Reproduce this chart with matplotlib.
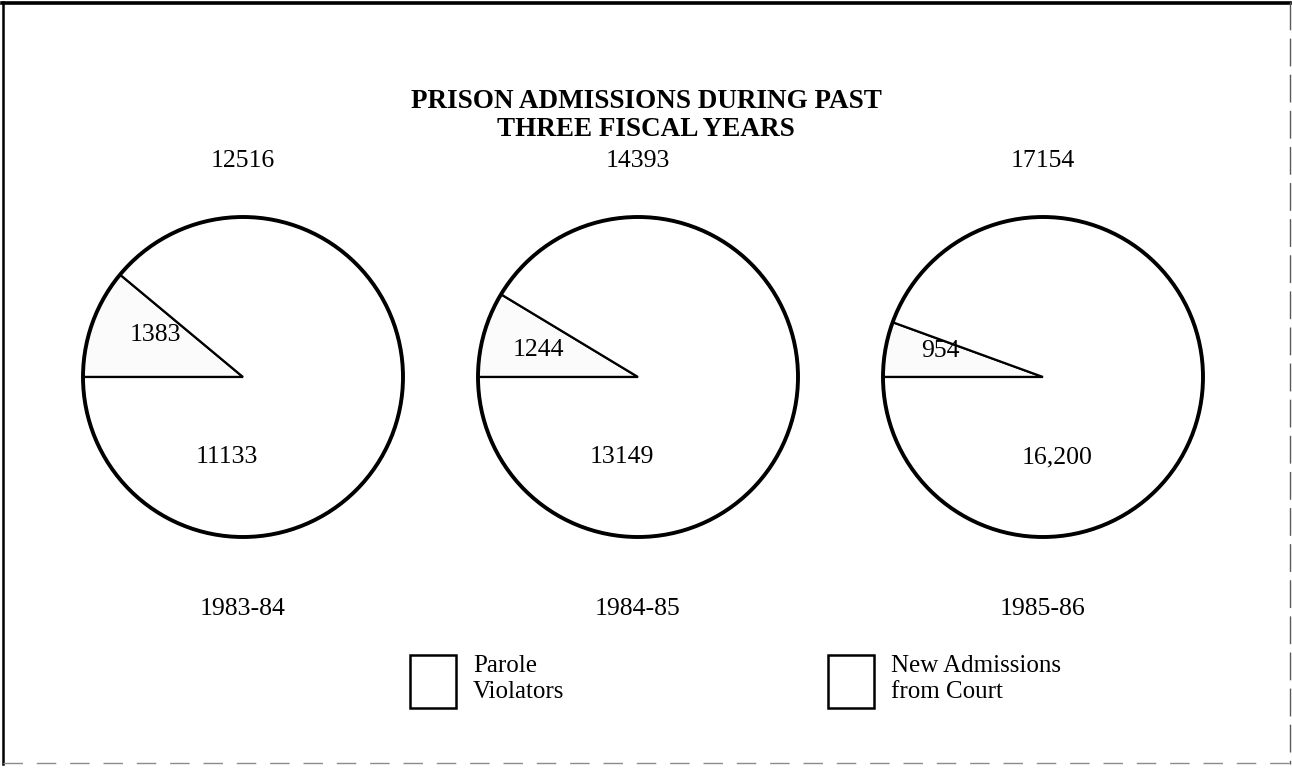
import matplotlib.pyplot as plt
from matplotlib.lines import Line2D
from matplotlib.patches import Circle, Rectangle

# Admissions per fiscal year, split by source
years = ["1983-84", "1984-85", "1985-86"]
parole_violators = [1383, 1244, 954]
new_from_court = [11133, 13149, 16200]
court_labels = ["11133", "13149", "16,200"]
legend_labels = ["Parole\nViolators", "New Admissions\nfrom Court"]

W, H = 1292, 768
SERIF = ["Liberation Serif", "DejaVu Serif"]

fig = plt.figure(figsize=(W / 100, H / 100), dpi=100)
fig.patch.set_facecolor("white")


def fx(px):
    return px / W


def fy(py):
    return 1 - py / H


# outer frame
fig.add_artist(Line2D([fx(2), fx(1290)], [fy(3), fy(3)], color="black", lw=2.6))
fig.add_artist(Line2D([fx(3), fx(3)], [fy(2), fy(764)], color="black", lw=1.8))
fig.add_artist(Line2D([fx(1290), fx(1290)], [fy(2), fy(764)], color="0.35", lw=1.0,
                      ls=(0, (20, 6))))
fig.add_artist(Line2D([fx(3), fx(1290)], [fy(763), fy(763)], color="0.55", lw=1.0,
                      ls=(0, (14, 10))))

fig.text(0.5, fy(101), "PRISON ADMISSIONS DURING PAST", ha="center", va="center",
         fontsize=19.5, family=SERIF, fontweight="bold")
fig.text(0.5, fy(129), "THREE FISCAL YEARS", ha="center", va="center",
         fontsize=19.5, family=SERIF, fontweight="bold")

centers = [243, 638, 1043]
radius = 160
cy = 377
parole_pos = [(-0.55, 0.26), (-0.62, 0.17), (-0.64, 0.16)]
court_pos = [(-0.1, -0.5), (-0.1, -0.5), (0.09, -0.5)]

for i, cx in enumerate(centers):
    ax = fig.add_axes([fx(cx - radius - 4), fy(cy + radius + 4),
                       (2 * radius + 8) / W, (2 * radius + 8) / H])
    vals = [parole_violators[i], new_from_court[i]]
    ax.pie(vals, startangle=180, counterclock=False, radius=1,
           colors=["#fbfbfb", "white"],
           wedgeprops=dict(edgecolor="black", linewidth=1.6))
    ax.add_patch(Circle((0, 0), 1, fill=False, edgecolor="black", lw=2.8))
    lim = 1 + 4 / radius
    ax.set_xlim(-lim, lim)
    ax.set_ylim(-lim, lim)
    ax.set_aspect("equal")
    ax.axis("off")
    ax.text(*parole_pos[i], str(parole_violators[i]), ha="center", va="center",
            fontsize=18.5, family=SERIF)
    ax.text(*court_pos[i], court_labels[i], ha="center", va="center",
            fontsize=18.5, family=SERIF)

    total = parole_violators[i] + new_from_court[i]
    fig.text(fx(cx), fy(161), str(total), ha="center", va="center",
             fontsize=18.5, family=SERIF)
    fig.text(fx(cx), fy(609), years[i], ha="center", va="center",
             fontsize=18.5, family=SERIF)

# legend boxes
box_x = [410, 828]
for bx, lab in zip(box_x, legend_labels):
    fig.add_artist(Rectangle((fx(bx), fy(708)), 46 / W, 53 / H, fill=False,
                             edgecolor="black", lw=1.8, transform=fig.transFigure))
    fig.text(fx(bx + 63), fy(679), lab, ha="left", va="center", fontsize=18,
             family=SERIF, linespacing=1.18)

fig.savefig("out.png", dpi=100, facecolor="white")
